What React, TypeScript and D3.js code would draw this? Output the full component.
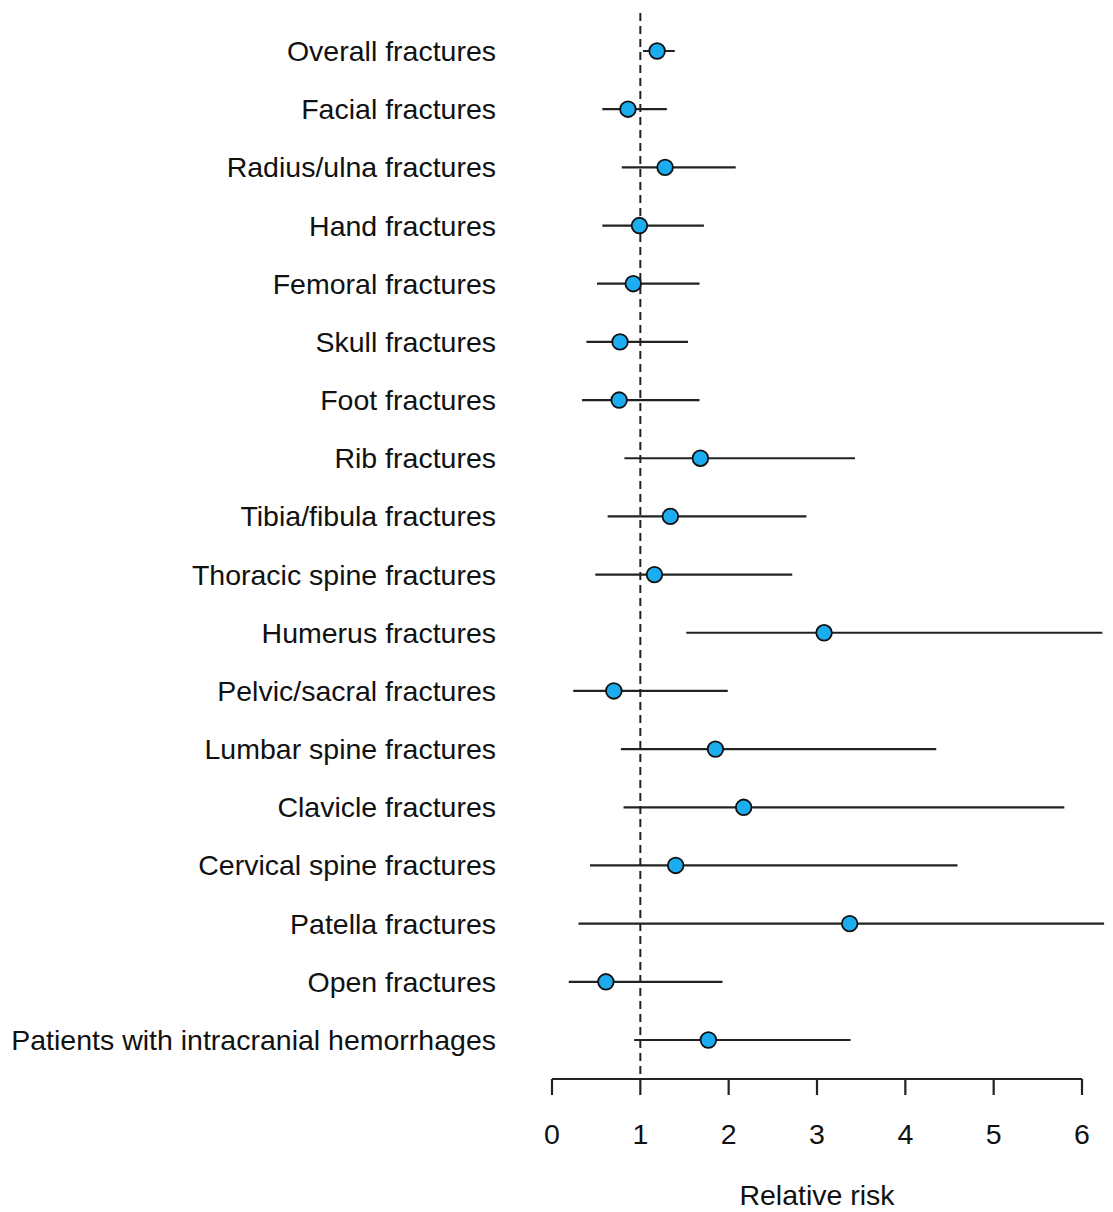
import React from "react";
import * as d3 from "d3";

// forest plot data (relative risk with 95% CI)
const categories = [
  "Overall fractures",
  "Facial fractures",
  "Radius/ulna fractures",
  "Hand fractures",
  "Femoral fractures",
  "Skull fractures",
  "Foot fractures",
  "Rib fractures",
  "Tibia/fibula fractures",
  "Thoracic spine fractures",
  "Humerus fractures",
  "Pelvic/sacral fractures",
  "Lumbar spine fractures",
  "Clavicle fractures",
  "Cervical spine fractures",
  "Patella fractures",
  "Open fractures",
  "Patients with intracranial hemorrhages",
];
const rr = [1.19, 0.86, 1.28, 0.99, 0.92, 0.77, 0.76, 1.68, 1.34, 1.16, 3.08, 0.7, 1.85, 2.17, 1.4, 3.37, 0.61, 1.77];
const lower = [1.03, 0.57, 0.79, 0.57, 0.51, 0.39, 0.34, 0.82, 0.63, 0.49, 1.52, 0.24, 0.78, 0.81, 0.43, 0.3, 0.19, 0.93];
const upper = [1.39, 1.3, 2.08, 1.72, 1.67, 1.54, 1.67, 3.43, 2.88, 2.72, 6.23, 1.99, 4.35, 5.8, 4.59, 6.25, 1.93, 3.38];
const xTicks = [0, 1, 2, 3, 4, 5, 6];

const W = 1113;
const H = 1212;
const font = "'Liberation Sans', Arial, Helvetica, sans-serif";

export default function App() {
  const x = d3.scaleLinear().domain([0, 6]).range([552, 1082]);
  const y = d3
    .scalePoint<string>()
    .domain(categories)
    .range([51, 1040]);
  const axisY = 1079;

  const rows = categories.map((c, i) => ({ c, rr: rr[i], lo: lower[i], hi: upper[i] }));

  return (
    <svg
      width={W}
      height={H}
      style={{ position: "absolute", left: 0, top: 0, background: "#fff" }}
      fontFamily={font}
    >
      {/* reference line at RR = 1 */}
      <line
        x1={x(1)}
        x2={x(1)}
        y1={13}
        y2={axisY}
        stroke="#222"
        strokeWidth={2}
        strokeDasharray="8,5"
      />

      {rows.map((d) => {
        const cy = y(d.c)!;
        return (
          <g key={d.c}>
            <text x={496} y={cy} dy="0.35em" textAnchor="end" fontSize={28.5} fill="#111">
              {d.c}
            </text>
            <line x1={x(d.lo)} x2={x(d.hi)} y1={cy} y2={cy} stroke="#222" strokeWidth={2.2} />
            <circle cx={x(d.rr)} cy={cy} r={7.8} fill="#1badf0" stroke="#111" strokeWidth={1.8} />
          </g>
        );
      })}

      {/* x axis */}
      <line x1={x(0)} x2={x(6)} y1={axisY} y2={axisY} stroke="#222" strokeWidth={2.2} />
      {xTicks.map((t) => (
        <g key={t}>
          <line x1={x(t)} x2={x(t)} y1={axisY} y2={axisY + 16} stroke="#222" strokeWidth={2.2} />
          <text x={x(t)} y={1144} textAnchor="middle" fontSize={28.5} fill="#111">
            {t}
          </text>
        </g>
      ))}
      <text x={(x(0) + x(6)) / 2} y={1205} textAnchor="middle" fontSize={28.5} fill="#111">
        Relative risk
      </text>
    </svg>
  );
}
